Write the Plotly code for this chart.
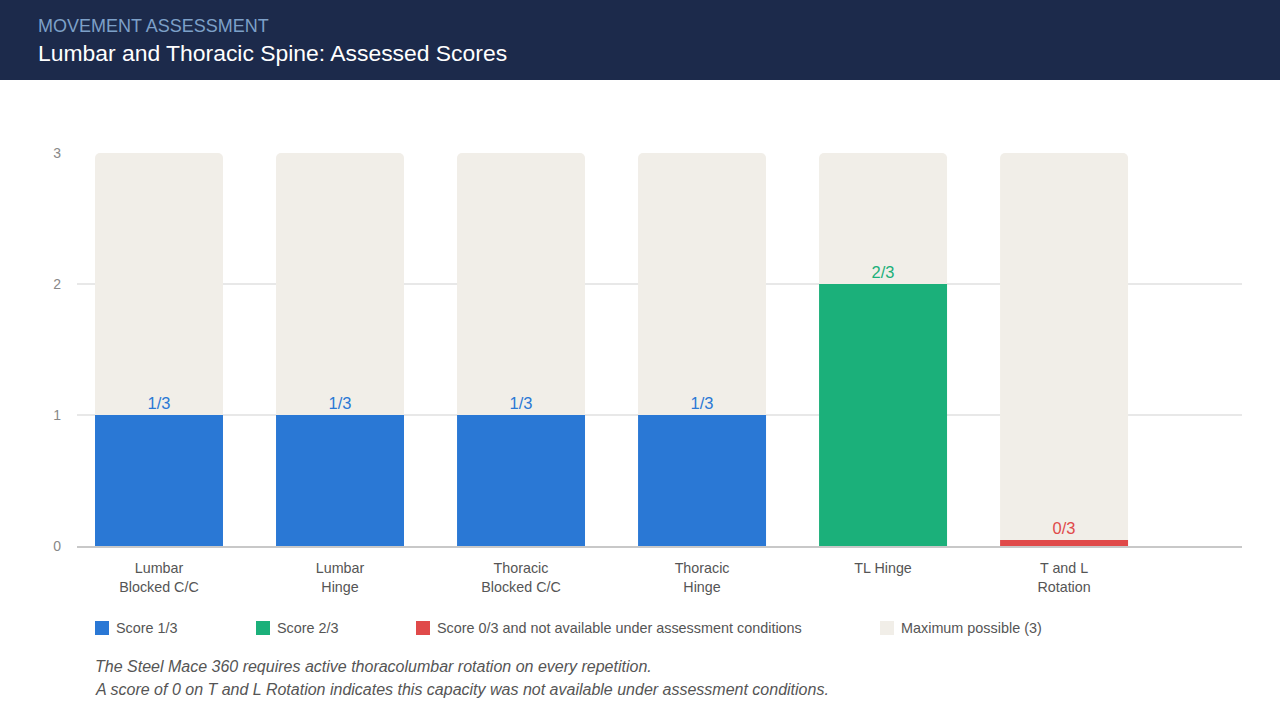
import plotly.graph_objects as go

categories = ['Lumbar<br>Blocked C/C', 'Lumbar<br>Hinge', 'Thoracic<br>Blocked C/C',
              'Thoracic<br>Hinge', 'TL Hinge', 'T and L<br>Rotation']
scores = [1, 1, 1, 1, 2, 0]
max_score = 3
score_labels = ['%d/%d' % (s, max_score) for s in scores]

BLUE = '#2a78d5'
GREEN = '#1bb07a'
RED = '#e04a4a'
BEIGE = '#f1eee8'
score_colors = {0: RED, 1: BLUE, 2: GREEN}

legend_items = [
    ('Score 1/3', BLUE),
    ('Score 2/3', GREEN),
    ('Score 0/3 and not available under assessment conditions', RED),
    ('Maximum possible (3)', BEIGE),
]
legend_x_px = [95, 256, 416, 880]

notes = ['The Steel Mace 360 requires active thoracolumbar rotation on every repetition.',
         'A score of 0 on T and L Rotation indicates this capacity was not available under assessment conditions.']

W, H = 1280, 720
L, R, T, B = 77, 38, 153, 174
PW, PH = W - L - R, H - T - B


def px(x):
    return (x - L) / PW


def py(y):
    return (H - B - y) / PH


xs = list(range(len(categories)))
# a zero score still gets a thin stub so it can be seen
shown = [s if s > 0 else 0.045 for s in scores]

fig = go.Figure()
fig.add_trace(go.Bar(
    x=xs, y=[max_score] * len(xs), width=0.707,
    marker=dict(color=BEIGE, line_width=0, cornerradius=5),
    hoverinfo='skip', showlegend=False
))
fig.add_trace(go.Bar(
    x=xs, y=shown, width=0.707,
    marker=dict(color=[score_colors[s] for s in scores], line_width=0, cornerradius=5),
    text=score_labels, textposition='outside', cliponaxis=False,
    textfont=dict(size=16.5, color=[score_colors[s] for s in scores]),
    customdata=scores, hovertemplate='%{customdata}/3<extra></extra>',
    showlegend=False
))

shapes = [dict(type='rect', xref='paper', yref='paper', x0=px(0), x1=px(W),
               y0=py(80), y1=py(0), fillcolor='#1c2a4b', line_width=0, layer='below')]
annotations = [
    dict(text='MOVEMENT ASSESSMENT', x=px(36), y=py(26), xref='paper', yref='paper',
         xanchor='left', yanchor='middle', showarrow=False,
         font=dict(size=18, color='#7da0c8', family='Liberation Sans, Arial, sans-serif')),
    dict(text='Lumbar and Thoracic Spine: Assessed Scores', x=px(36), y=py(53),
         xref='paper', yref='paper', xanchor='left', yanchor='middle', showarrow=False,
         font=dict(size=22.9, color='#ffffff', family='Liberation Sans, Arial, sans-serif')),
]

for (name, color), lx in zip(legend_items, legend_x_px):
    shapes.append(dict(type='rect', xref='paper', yref='paper',
                       x0=px(lx), x1=px(lx + 14), y0=py(635), y1=py(621),
                       fillcolor=color, line_width=0))
    annotations.append(dict(text=name, x=px(lx + 19), y=py(628), xref='paper', yref='paper',
                            xanchor='left', yanchor='middle', showarrow=False,
                            font=dict(size=14.4, color='#555555')))

for i, note in enumerate(notes):
    annotations.append(dict(text='<i>' + note + '</i>', x=px(93), y=py(666 + 23 * i),
                            xref='paper', yref='paper', xanchor='left', yanchor='middle',
                            showarrow=False, font=dict(size=16, color='#555555')))

fig.update_layout(
    width=W, height=H,
    margin=dict(l=L, r=R, t=T, b=B),
    paper_bgcolor='white', plot_bgcolor='white',
    barmode='overlay',
    font=dict(family='Liberation Sans, Arial, sans-serif', color='#555555'),
    shapes=shapes, annotations=annotations,
    showlegend=False,
)
fig.update_xaxes(range=[-0.453, 5.983], tickvals=xs, ticktext=categories,
                 tickfont=dict(size=14.3, color='#555555'), showgrid=False,
                 showline=True, linecolor='#c8c8c8', linewidth=1.5, ticks='', zeroline=False,
                 ticklabelstandoff=8)
fig.update_yaxes(range=[0, 3], tickvals=[0, 1, 2, 3], tickfont=dict(size=14, color='#888888'),
                 showgrid=True, gridcolor='#e8e8e8', gridwidth=1.5, zeroline=False,
                 ticks='', ticklabelstandoff=15)

# the page should start at the window's top-left corner
fig.write_html('out.html', config={'displayModeBar': False},
               post_script="document.body.style.margin='0';")
